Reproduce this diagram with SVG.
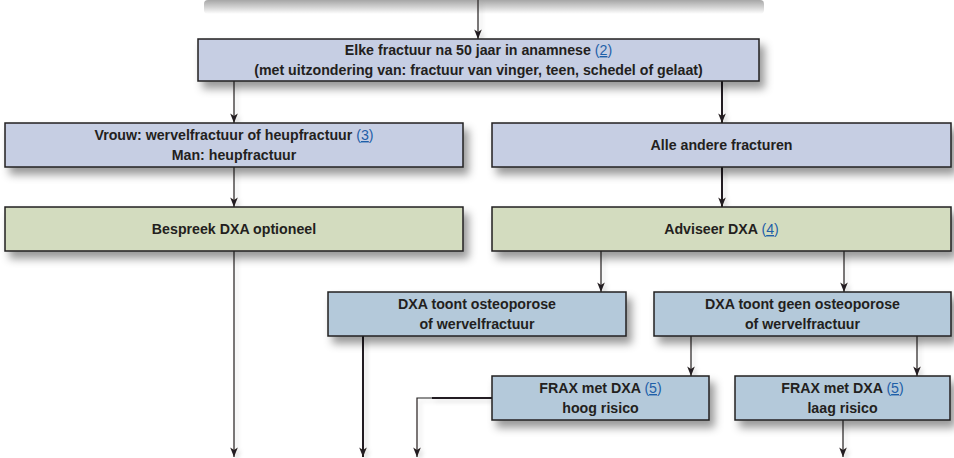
<svg xmlns="http://www.w3.org/2000/svg" width="954" height="458" viewBox="0 0 954 458">
<defs>
<filter id="sh" x="-10%" y="-30%" width="125%" height="190%">
<feDropShadow dx="5" dy="7" stdDeviation="4" flood-color="#000" flood-opacity="0.4"/>
</filter>
<filter id="lsh" x="-50%" y="-10%" width="300%" height="120%">
<feDropShadow dx="3" dy="3" stdDeviation="2" flood-color="#000" flood-opacity="0.15"/>
</filter>
<linearGradient id="topsh" x1="0" y1="0" x2="0" y2="1">
<stop offset="0" stop-color="#000" stop-opacity="0.35"/>
<stop offset="0.5" stop-color="#000" stop-opacity="0.18"/>
<stop offset="1" stop-color="#000" stop-opacity="0"/>
</linearGradient>
<marker id="ah" markerUnits="userSpaceOnUse" markerWidth="12" markerHeight="10" viewBox="-10 -5 11 10" refX="0" refY="0" orient="auto">
<path d="M0,0 L-9.5,-3.8 L-7,0 L-9.5,3.8 Z" fill="#231f20"/>
</marker>
<style>
.box{stroke:#231f20;stroke-width:1.5;filter:url(#sh)}
.b1{fill:#c6cee3}
.g{fill:#d3dcbf}
.b2{fill:#b4c9da}
text{font-family:"Liberation Sans",Arial,sans-serif;font-weight:bold;font-size:14.2px;fill:#231f20;text-anchor:middle}
.ref{fill:#1f5fa8;font-weight:normal}
.u{text-decoration:underline}
.c{stroke:#231f20;fill:none;stroke-width:1.2;marker-end:url(#ah)}
.ct{stroke:#231f20;fill:none;stroke-width:2;marker-end:url(#ah)}
</style>
</defs>
<g id="top-box-shadow"><rect x="204" y="0" width="560" height="14" rx="4" fill="url(#topsh)"/></g>
<g id="connectors" filter="url(#lsh)">
<path class="c" d="M478,0 V39"/>
<path class="c" d="M234,81 V123"/>
<path class="ct" d="M722,81 V123"/>
<path class="c" d="M234,167 V207"/>
<path class="ct" d="M722,167 V207"/>
<path class="c" d="M234,251 V457"/>
<path class="c" d="M601,251 V292"/>
<path class="c" d="M844,251 V292"/>
<path class="ct" d="M363,336 V457"/>
<path class="c" d="M691,336 V376"/>
<path class="c" d="M917,336 V376"/>
<path stroke="#231f20" stroke-width="2" fill="none" d="M492,398 H432"/>
<path class="c" d="M433,398 H417 V457"/>
<path class="c" d="M843,420 V457"/>
</g>
<g id="n1">
<rect class="box b1" x="198" y="39" width="561" height="42"/>
<text x="478.5" y="55">Elke fractuur na 50 jaar in anamnese <tspan class="ref">(<tspan class="u">2</tspan>)</tspan></text>
<text x="478.5" y="75">(met uitzondering van: fractuur van vinger, teen, schedel of gelaat)</text>
</g>
<g id="n2">
<rect class="box b1" x="5" y="123" width="458" height="44"/>
<text x="234" y="140">Vrouw: wervelfractuur of heupfractuur <tspan class="ref">(<tspan class="u">3</tspan>)</tspan></text>
<text x="234" y="160">Man: heupfractuur</text>
</g>
<g id="n3">
<rect class="box b1" x="492" y="123" width="459" height="44"/>
<text x="721.5" y="150">Alle andere fracturen</text>
</g>
<g id="n4">
<rect class="box g" x="5" y="207" width="458" height="44"/>
<text x="234" y="234">Bespreek DXA optioneel</text>
</g>
<g id="n5">
<rect class="box g" x="492" y="207" width="459" height="44"/>
<text x="721.5" y="234">Adviseer DXA <tspan class="ref">(<tspan class="u">4</tspan>)</tspan></text>
</g>
<g id="n6">
<rect class="box b2" x="328" y="292" width="298" height="44"/>
<text x="477" y="309">DXA toont osteoporose</text>
<text x="477" y="329">of wervelfractuur</text>
</g>
<g id="n7">
<rect class="box b2" x="654" y="292" width="297" height="44"/>
<text x="802.5" y="309">DXA toont geen osteoporose</text>
<text x="802.5" y="329">of wervelfractuur</text>
</g>
<g id="n8">
<rect class="box b2" x="492" y="376" width="217" height="44"/>
<text x="600.5" y="393">FRAX met DXA <tspan class="ref">(<tspan class="u">5</tspan>)</tspan></text>
<text x="600.5" y="413">hoog risico</text>
</g>
<g id="n9">
<rect class="box b2" x="735" y="376" width="215" height="44"/>
<text x="842.5" y="393">FRAX met DXA <tspan class="ref">(<tspan class="u">5</tspan>)</tspan></text>
<text x="842.5" y="413">laag risico</text>
</g>
</svg>
